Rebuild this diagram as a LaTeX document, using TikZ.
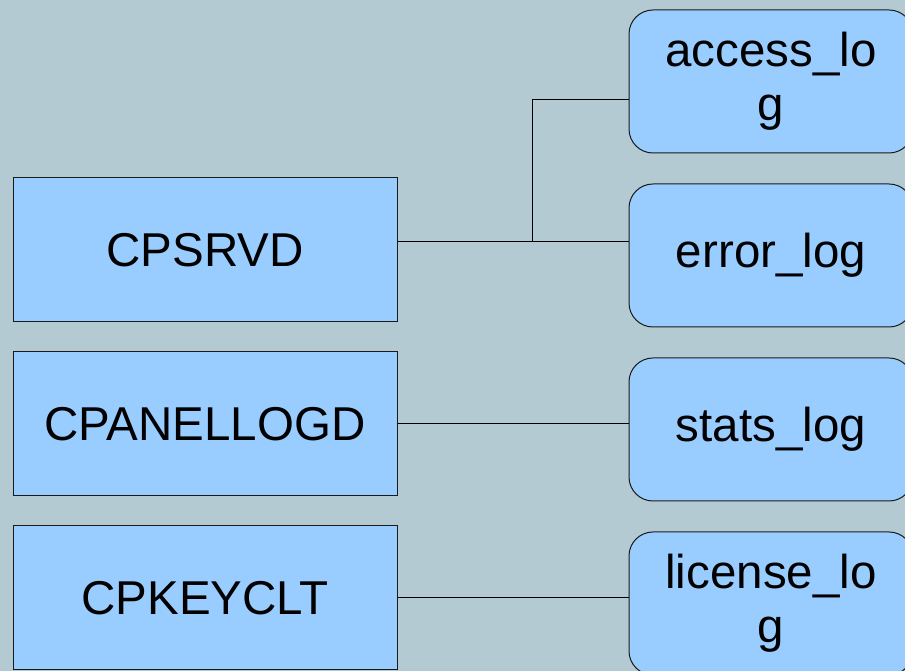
\documentclass[tikz,border=0pt]{standalone}
\usepackage{fontspec}
\setmainfont{Liberation Sans}
\definecolor{bgc}{HTML}{B3CAD3}
\definecolor{boxc}{HTML}{99CCFF}
\definecolor{edgec}{HTML}{1A1A1A}
\begin{document}
\begin{tikzpicture}[x=1pt,y=1pt,
  proc/.style={draw=edgec,line width=1pt,fill=boxc,rectangle,minimum width=384pt,minimum height=144pt,inner sep=0pt,font=\fontsize{47.5}{54}\selectfont},
  logbox/.style={draw=edgec,line width=1pt,fill=boxc,rectangle,rounded corners=24pt,minimum width=284pt,minimum height=143pt,inner sep=0pt,align=center,font=\fontsize{47.5}{54}\selectfont},
  wire/.style={draw=black,line width=1pt}]
\useasboundingbox (0,0) rectangle (905,671);
\fill[bgc] (0,0) rectangle (905,671);
\clip (0,0) rectangle (905,671);
% left process boxes
\node[proc] (srv) at (205,421) {CPSRVD};
\node[proc] (pnl) at (205,247) {CPANELLOGD};
\node[proc] (key) at (205,73) {CPKEYCLT};
% right log boxes
\node[logbox] (acc) at (771,589.5) {access\_lo\\g};
\node[logbox] (err) at (771,415.5) {error\_log};
\node[logbox] (sta) at (771,241.5) {stats\_log};
\node[logbox] (lic) at (771,67.5) {license\_lo\\g};
% connector coordinates
\coordinate (j1) at (532,429);
\coordinate (j2) at (532,571);
\draw[wire] (srv.east |- j1) -- (err.west |- j1);
\draw[wire] (j1) -- (j2) -- (acc.west |- j2);
\draw[wire] (pnl.east |- 0,247) -- (sta.west |- 0,247);
\draw[wire] (key.east |- 0,73) -- (lic.west |- 0,73);
\end{tikzpicture}
\end{document}
